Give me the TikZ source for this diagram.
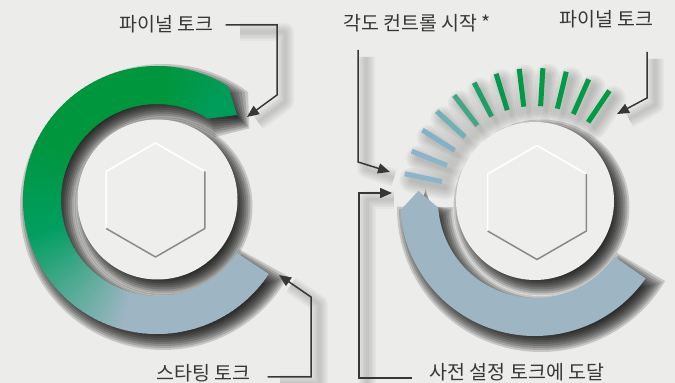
\documentclass[tikz,border=0pt]{standalone}
\usepackage{fontspec}
\newfontfamily\kr{Noto Sans CJK KR}
\usetikzlibrary{arrows.meta,calc}
\definecolor{bg}{RGB}{236,236,234}
\definecolor{disc}{RGB}{238,238,236}
\definecolor{gA}{RGB}{0,150,62}
\definecolor{gB}{RGB}{0,158,96}
\definecolor{bl}{RGB}{158,181,195}
\definecolor{ink}{RGB}{55,55,55}
\definecolor{hexg}{RGB}{138,138,138}
\tikzset{
  lbl/.style={font=\kr\fontsize{19.5}{22}\selectfont, text=ink, inner sep=0pt},
  leader/.style={draw=ink, line width=1.5pt, -{Triangle[length=12pt,width=10pt]}},
  leadshadow/.style={draw=black, draw opacity=0.028, line join=round},
  shadowfill/.style={fill=black, fill opacity=0.16},
  hexwhite/.style={draw=white, line width=1.7pt, line join=round},
  hexgray/.style={draw=hexg, line width=1.5pt, line join=round},
  tick/.style={line width=5pt}
}
\begin{document}
\begin{tikzpicture}[x=1pt,y=1pt]
\fill[bg] (0,0) rectangle (675,383);
\useasboundingbox (0,0) rectangle (675,383);

% ---------- leader shadows ----------
\foreach \w in {3,6,9,12,15,18}{
  \draw[leadshadow, line width=\w pt, shift={(8,-7)}] (232,358) -- (277,358) -- (277,288) -- (250,268);
  \draw[leadshadow, line width=\w pt, shift={(8,-7)}] (272,6) -- (311,6) -- (311,86) -- (283,105);
  \draw[leadshadow, line width=\w pt, shift={(8,-7)}] (358,333) -- (358,221) -- (386,212);
  \draw[leadshadow, line width=\w pt, shift={(8,-7)}] (359,5) -- (359,190) -- (386,190);
  \draw[leadshadow, line width=\w pt, shift={(8,-7)}] (647,331) -- (647,285) -- (621,271);
}

% ---------- left group ----------
\begin{scope}[shift={(157,183)}]
  % ring shadow (stacked offset shapes = blur)
  \foreach \dd in {-9,-7,...,9}{
    \pgfmathsetmacro\ro{134+\dd}\pgfmathsetmacro\ri{96-\dd}
    \pgfmathsetmacro\sa{58-0.5*\dd}\pgfmathsetmacro\ea{326.5+0.5*\dd}
    \pgfmathsetmacro\tp{46.7-0.49*\dd}
    \fill[shadowfill, shift={(6,-7)}] (\sa:\ro) arc[start angle=\sa,end angle=\ea,radius=\ro]
      -- (\ea:\ri) arc[start angle=\ea,end angle=\sa,radius=\ri] -- (\tp:116.7) -- cycle;
  }
  % disc shadow
  \foreach \dd in {-9,-7,...,9}{
    \fill[shadowfill] (6.5,-6.5) circle[radius=80+\dd];
  }
  % ring with angular gradient
  \foreach \a in {58,60,...,324}{
    \pgfmathsetmacro\b{min(\a+2.6,326.5)}
    \pgfmathsetmacro\ta{max(min(max((\a+1-150)/45,0),1),0.8*min(max((85-\a)/27,0),1))*100}
    \pgfmathsetmacro\tb{min(max((\a+1-195)/60,0),1)*100}
    \colorlet{cA}{gB!\ta!gA}
    \colorlet{segc}{bl!\tb!cA}
    \fill[segc] (\a:134) arc[start angle=\a,end angle=\b,radius=134]
      -- (\b:96) arc[start angle=\b,end angle=\a,radius=96] -- cycle;
  }
  \fill[gB!80!gA] (58.6:134) -- (58:134) -- (46.7:116.7) -- (58:96) -- (58.6:96) -- cycle;
  \fill[disc] (0.5,0.5) circle[radius=80];
\end{scope}
\begin{scope}[shift={(155.5,183)}]
  \draw[hexwhite] (-150:57) -- (150:57) -- (90:57) -- (30:57);
  \draw[hexgray] (30:57) -- (-30:57) -- (-90:57) -- (-150:57);
\end{scope}

% ---------- right group ----------
\begin{scope}[shift={(535,182)}]
  \foreach \dd in {-9,-7,...,9}{
    \pgfmathsetmacro\ro{135+\dd}\pgfmathsetmacro\ri{97-\dd}
    \pgfmathsetmacro\sa{184-0.5*\dd}\pgfmathsetmacro\ea{325+0.5*\dd}
    \pgfmathsetmacro\tp{175+0.49*\dd}
    \fill[shadowfill, shift={(6,-7)}] (\sa:\ro) arc[start angle=\sa,end angle=\ea,radius=\ro]
      -- (\ea:\ri) arc[start angle=\ea,end angle=\sa,radius=\ri] -- (\tp:117) -- cycle;
  }
  \foreach \k in {0,...,11}{
    \pgfmathsetmacro\ang{56+10.2*\k}
    \foreach \w in {5,9,13,17,21,25}{
      \draw[shift={(5,-6)}, line width=\w pt, line cap=round, draw=black, draw opacity=0.035] (\ang:97) -- (\ang:131);
    }
  }
  \foreach \dd in {-9,-7,...,9}{
    \fill[shadowfill] (6.5,-6.5) circle[radius=79+\dd];
  }
  \fill[bl] (184:135) arc[start angle=184,end angle=325,radius=135]
     -- (325:97) arc[start angle=325,end angle=184,radius=97] -- (175:117) -- cycle;
  \foreach \k/\r/\g/\bb in {0/0/155/68,1/0/155/68,2/0/155/68,3/0/155/68,4/0/153/70,5/4/152/78,
      6/28/158/100,7/68/166/134,8/112/177/182,9/132/178/196,10/138/180/200,11/140/181/201}{
    \definecolor{tc}{RGB}{\r,\g,\bb}
    \pgfmathsetmacro\ang{56+10.2*\k}
    \draw[tick, draw=tc] (\ang:95) -- (\ang:133);
  }
  \fill[disc] (0,0) circle[radius=79];
\end{scope}
\begin{scope}[shift={(537,180.5)}]
  \draw[hexwhite] (-150:57) -- (150:57) -- (90:57) -- (30:57);
  \draw[hexgray] (30:57) -- (-30:57) -- (-90:57) -- (-150:57);
\end{scope}

% ---------- labels ----------
\node[lbl] (lbl1) at (166.5,359) {파이널 토크};
\node[lbl] (lbl2) at (203.5,9.5) {스타팅 토크};
\node[lbl] (lbl3) at (417,360) {각도 컨트롤 시작 *};
\node[lbl] (lbl4) at (517,10.5) {사전 설정 토크에 도달};
\node[lbl] (lbl5) at (606.5,363.5) {파이널 토크};

% ---------- leaders ----------
\coordinate (b1) at (277,288); \coordinate (t1) at (247,266);
\coordinate (b2) at (311,86);  \coordinate (t2) at (279,108);
\coordinate (s3) at (358,333); \coordinate (b3) at (358,221); \coordinate (t3) at (390,211);
\coordinate (b4) at (359,190); \coordinate (t4) at (392,190);
\coordinate (s5) at (647,331); \coordinate (b5) at (647,285); \coordinate (t5) at (617,269);

\draw[leader] ([xshift=12pt,yshift=-1pt]lbl1.east) -| (b1) -- (t1);
\draw[leader] ([xshift=17pt,yshift=-3.5pt]lbl2.east) -| (b2) -- (t2);
\draw[leader] (s3) -- (b3) -- (t3);
\draw[leader] ([xshift=-18pt,yshift=-5.5pt]lbl4.west) -| (b4) -- (t4);
\draw[leader] (s5) -- (b5) -- (t5);
\end{tikzpicture}
\end{document}
